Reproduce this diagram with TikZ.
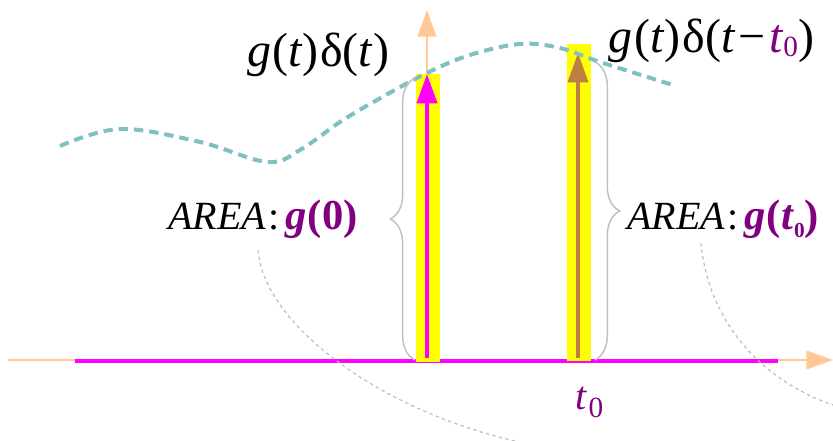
\documentclass[tikz,border=0pt]{standalone}
\usepackage{fontspec}
\setmainfont{Liberation Serif}
\newfontfamily\tms{Liberation Serif}
\usetikzlibrary{arrows.meta,decorations.pathreplacing}
\definecolor{peach}{RGB}{255,200,150}
\definecolor{mag}{RGB}{255,0,255}
\definecolor{yel}{RGB}{255,255,0}
\definecolor{brn}{RGB}{190,128,66}
\definecolor{wave}{RGB}{128,192,192}
\definecolor{purp}{RGB}{128,0,128}
\definecolor{bracegray}{RGB}{192,192,192}
\definecolor{dashgray}{RGB}{190,190,190}
\newcommand{\subz}[2]{\raisebox{#2}{\fontsize{#1}{#1}\selectfont 0}}
\begin{document}
\begin{tikzpicture}[x=0.75pt,y=-0.75pt,
  axis/.style={peach, line width=1.1pt, -{Triangle[length=20pt,width=14pt]}},
  spike/.style={line width=3pt, -{Triangle[length=22pt,width=15pt]}},
  bar/.style={fill=yel, draw=none},
  bracestyle/.style={bracegray, line width=1.1pt, decorate, decoration={brace, amplitude=18.5pt}},
  guide/.style={dashgray, line width=0.9pt, dash pattern=on 2.5pt off 2.5pt},
  lab/.style={font=\tms\fontsize{36}{40}\selectfont, inner sep=0pt, anchor=base west},
  arealab/.style={font=\tms\fontsize{30}{36}\selectfont, inner sep=0pt, anchor=base west},
  tlab/.style={font=\tms\fontsize{30}{36}\selectfont, inner sep=0pt, anchor=base west}]
\useasboundingbox (0,0) rectangle (833,441);
% axes
\coordinate (xs) at (8,360);
\coordinate (xe) at (833,360);
\coordinate (ys) at (427,362);
\coordinate (ye) at (427,10);
\draw[axis] (xs) -- (xe);
\draw[axis] (ys) -- (ye);
% magenta baseline
\coordinate (ms) at (75,361);
\coordinate (me) at (778,361);
\draw[mag, line width=3.6pt] (ms) -- (me);
% yellow bars
\fill[bar] (416,74) rectangle (440,362);
\fill[bar] (567,44) rectangle (591,361);
% spikes
\coordinate (a0) at (427,358);
\coordinate (a1) at (427,74);
\coordinate (b0) at (578,358);
\coordinate (b1) at (578,53);
\draw[spike, mag] (a0) -- (a1);
\draw[spike, brn] (b0) -- (b1);
% wave
\draw[wave, line width=3pt, dash pattern=on 7pt off 4.5pt]
  plot[smooth, tension=0.6] coordinates {(60,146) (120,129) (200,142) (267,162) (300,150) (340,122) (377,100) (427,73) (470,55) (520,44) (560,48) (600,62) (673,85)};
% braces
\coordinate (lb0) at (415,360);
\coordinate (lb1) at (415,78);
\coordinate (rb0) at (595,62);
\coordinate (rb1) at (595,360);
\draw[bracestyle] (lb0) -- (lb1);
\draw[bracestyle] (rb0) -- (rb1);
% guide curves
\coordinate (g0) at (258,250);
\coordinate (g1) at (515,441);
\coordinate (h0) at (701,243);
\coordinate (h1) at (833,405);
\draw[guide] (g0) .. controls (264,325) and (380,410) .. (g1);
\draw[guide] (h0) .. controls (708,320) and (760,380) .. (h1);
% labels
\node[lab] (n1) at (247,67) {\textit{g}\kern1pt(\textit{t})\kern1pt δ(\textit{t})};
\node[lab] (n2) at (608,53) {\textit{g}\kern1.5pt(\textit{t})\kern1.5pt δ(\textit{t}\kern2.5pt−\kern2.5pt\textcolor{purp}{\textit{t}\subz{22}{-2.5pt}})};
\node[arealab] (n3) at (168,230) {\textit{AREA}\kern2pt:\kern4pt\textcolor{purp}{\fontsize{32}{38}\selectfont\textbf{\textit{g}}\kern1pt\textbf{(0)}}};
\node[arealab] (n4) at (627,230) {\textit{AREA}\kern2pt:\kern4pt\textcolor{purp}{\fontsize{32}{38}\selectfont\textbf{\textit{g}}\kern1pt\textbf{(\textit{t}\subz{16}{-6pt})}}};
\node[tlab, text=purp] (n5) at (575,410) {\textit{t}\kern1pt\subz{22}{-6pt}};
\end{tikzpicture}
\end{document}
